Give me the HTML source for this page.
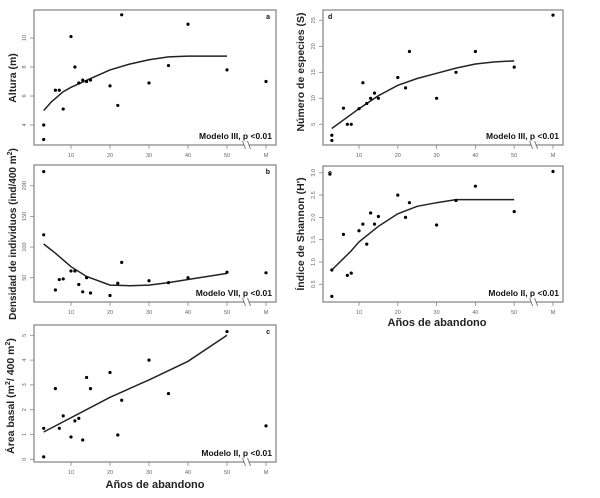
<!DOCTYPE html>
<html><head><meta charset="utf-8"><style>
body{margin:0;background:#fff;}
svg{display:block;font-family:"Liberation Sans",Arial,sans-serif;}
</style></head><body>
<svg id="chart" width="600" height="498" viewBox="0 0 600 498" xmlns="http://www.w3.org/2000/svg"></svg>
<script>
// Panel a: Altura
const aX=[3,3,6,7,8,10,11,12,13,14,15,20,22,23,30,35,40,50];
const aY=[3.0,4.0,6.4,6.4,5.1,10.1,8.0,6.9,7.1,7.0,7.1,6.7,5.35,11.6,6.9,8.1,10.95,7.8];
const aM=[7.0];
const aCurveX=[3,5,8,10,15,20,25,30,35,40,50];
const aCurveY=[5.0,5.6,6.3,6.6,7.2,7.8,8.2,8.5,8.7,8.75,8.75];
const aTicks=[4,6,8,10];
// Panel b: Densidad
const bX=[3,3,6,7,8,10,11,12,13,14,15,20,22,23,30,35,40,50];
const bY=[223,120,30,47,48,61,61,39,27,50,25,21,41,75,45,42,50,59];
const bM=[58];
const bCurveX=[3,6,10,14,20,25,30,35,40,50];
const bCurveY=[105,90,68,52,38,37,38,42,47,57];
const bTicks=[50,100,150,200];
// Panel c: Area basal
const cX=[3,3,6,7,8,10,11,12,13,14,15,20,22,23,30,35,50];
const cY=[1.25,0.1,2.85,1.25,1.75,0.9,1.55,1.65,0.78,3.3,2.85,3.5,0.98,2.38,4.0,2.65,5.15];
const cM=[1.35];
const cCurveX=[3,20,30,40,50];
const cCurveY=[1.1,2.5,3.2,3.95,5.0];
const cTicks=[0,1,2,3,4,5];
// Panel d: Especies
const dX=[3,3,6,7,8,10,11,12,13,14,15,20,22,23,30,35,40,50];
const dY=[2.9,1.9,8.1,5,5,8,13,9,10,11,10,14,12,19,10,15,19,16];
const dM=[26];
const dCurveX=[3,10,15,20,25,30,35,40,45,50];
const dCurveY=[4.2,8,10.5,12.5,13.8,14.8,15.8,16.6,17,17.2];
const dTicks=[5,10,15,20,25];
// Panel e: Shannon
const eX=[2.5,3,3,6,7,8,10,11,12,13,14,15,20,22,23,30,35,40,50];
const eY=[2.97,0.82,0.23,1.62,0.7,0.75,1.7,1.85,1.4,2.1,1.85,2.02,2.5,2.0,2.33,1.83,2.38,2.7,2.13];
const eM=[3.03];
const eCurveX=[3,8,10,15,20,25,30,35,50];
const eCurveY=[0.82,1.25,1.45,1.8,2.08,2.25,2.33,2.4,2.4];
const eTicks=[0.5,1.0,1.5,2.0,2.5,3.0];
const xTicks=[10,20,30,40,50];

const NS="http://www.w3.org/2000/svg";
const svg=document.getElementById('chart');
function mk(tag,attrs,parent){const e=document.createElementNS(NS,tag);for(const k in attrs)e.setAttribute(k,attrs[k]);(parent||svg).appendChild(e);return e;}

function panel(o){
  const g=mk('g',{});
  
  
  const x=v=>o.x0+v*o.xs;
  const xM=x(60);
  const y=v=>o.yRef-(v-o.vRef)*o.ys;
  const box=mk('rect',{x:o.L,y:o.T,width:o.R-o.L,height:o.B-o.T,fill:'none',stroke:'#8a8a8a','stroke-width':1.3},g);
  
  
  const xt=xTicks.map(v=>[x(v),String(v)]).concat([[xM,'M']]);
  xt.forEach(([px,l])=>{
    mk('line',{x1:px,x2:px,y1:o.B,y2:o.B+4,stroke:'#888','stroke-width':0.8},g);
    const t=mk('text',{x:px,y:o.B+12,'font-size':5.5,'text-anchor':'middle',fill:'#666'},g);
    t.textContent=l;
    
    
  });
  const bx=x(55);
  mk('line',{x1:bx-2,x2:bx+2,y1:o.B,y2:o.B,stroke:'#fff','stroke-width':3},g);
  mk('path',{d:`M${bx-4} ${o.B-4} L${bx-1} ${o.B+4} M${bx+1} ${o.B-4} L${bx+4} ${o.B+4}`,stroke:'#666','stroke-width':0.8,fill:'none'},g);
  o.ticks.forEach(v=>{
    const py=y(v);
    mk('line',{x1:o.L-4,x2:o.L,y1:py,y2:py,stroke:'#888','stroke-width':0.8},g);
    const t=mk('text',{x:o.L-8,y:py,'font-size':5.5,'text-anchor':'middle',fill:'#666',transform:`rotate(-90 ${o.L-8} ${py})`},g);
    t.textContent=o.fmt?v.toFixed(1):String(v);
    
    
  });
  const d=o.cx.map((v,i)=>(i?'L':'M')+x(v).toFixed(1)+' '+y(o.cy[i]).toFixed(1)).join(' ');
  const c=mk('path',{d:d,fill:'none',stroke:'#222','stroke-width':1.5},g);
  
  
  o.px.forEach((v,i)=>{
    const p=mk('circle',{cx:x(v),cy:y(o.py[i]),r:1.6,fill:'#000'},g);
    
    
  });
  o.pm.forEach(v=>{
    const p=mk('circle',{cx:xM,cy:y(v),r:1.6,fill:'#000'},g);
    
    
  });
  const m=mk('text',{x:o.R-4,y:o.B-6,'font-size':8.5,'font-weight':'bold','text-anchor':'end',fill:'#111'},g);
  m.textContent=o.model;
  
  
  const lt=mk('text',{x:o.letterLeft?o.L+5:o.R-6,y:o.T+9,'font-size':7,'font-weight':'bold','text-anchor':o.letterLeft?'start':'end',fill:'#111'},g);
  lt.textContent=o.letter;
  
  
  const yl=mk('text',{x:o.ylx,y:o.ylY,'font-size':o.yfs||10.5,'font-weight':'bold','text-anchor':'middle',fill:'#222',transform:`rotate(-90 ${o.ylx} ${o.ylY})`},g);
  yl.innerHTML=o.ylabel;
  
  
}
const lx0=71-3.9*10, rx0=359-3.88*10;
panel({name:'panel-a-altura',L:34,R:276,T:10,B:145,x0:lx0,xs:3.9,yRef:125,vRef:4,ys:14.5,ticks:aTicks,
 px:aX,py:aY,pm:aM,cx:aCurveX,cy:aCurveY,model:'Modelo III, p <0.01',letter:'a',ylabel:'Altura (m)',ylx:16,ylY:78});
panel({name:'panel-b-densidad',L:34,R:276,T:165,B:302,x0:lx0,xs:3.9,yRef:277.7,vRef:50,ys:0.613,ticks:bTicks,yfs:10,
 px:bX,py:bY,pm:bM,cx:bCurveX,cy:bCurveY,model:'Modelo VII, p <0.01',letter:'b',ylabel:'Densidad de individuos (ind/400 m<tspan font-size="7" dy="-4">2</tspan><tspan dy="4">)</tspan>',ylx:16,ylY:234});
panel({name:'panel-c-area-basal',L:34,R:276,T:325,B:462,x0:lx0,xs:3.9,yRef:459.3,vRef:0,ys:24.8,ticks:cTicks,
 px:cX,py:cY,pm:cM,cx:cCurveX,cy:cCurveY,model:'Modelo II, p <0.01',letter:'c',ylabel:'Área basal (m<tspan font-size="7" dy="-4">2</tspan><tspan dy="4">/ 400 m</tspan><tspan font-size="7" dy="-4">2</tspan><tspan dy="4">)</tspan>',ylx:14,ylY:396});
panel({name:'panel-d-especies',L:323,R:563,T:10,B:145,x0:rx0,xs:3.88,yRef:124.3,vRef:5,ys:5.2,ticks:dTicks,
 px:dX,py:dY,pm:dM,cx:dCurveX,cy:dCurveY,model:'Modelo III, p <0.01',letter:'d',letterLeft:true,ylabel:'Número de especies (S)',ylx:304,ylY:72});
panel({name:'panel-e-shannon',L:323,R:563,T:166,B:302,x0:rx0,xs:3.88,yRef:284.3,vRef:0.5,ys:44.6,ticks:eTicks,fmt:true,
 px:eX,py:eY,pm:eM,cx:eCurveX,cy:eCurveY,model:'Modelo II, p <0.01',letter:'e',letterLeft:true,ylabel:'Índice de Shannon (H\')',ylx:304,ylY:234});
[[437,326,'x-axis-title-right'],[155,488,'x-axis-title-left']].forEach(([xx,yy,n])=>{
  const t=mk('text',{x:xx,y:yy,'font-size':11,'font-weight':'bold','text-anchor':'middle',fill:'#222'});
  t.textContent='Años de abandono';
  
  
});
</script>
</body></html>
